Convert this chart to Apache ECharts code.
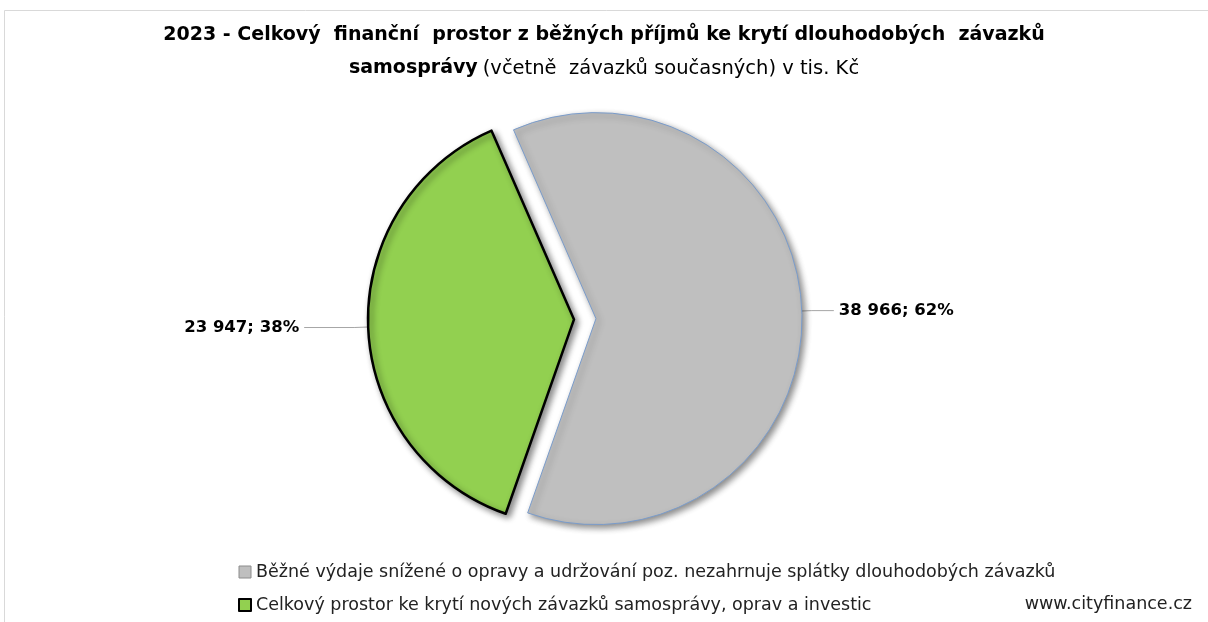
<!DOCTYPE html>
<html>
<head>
<meta charset="utf-8">
<script src="https://cdn.jsdelivr.net/npm/echarts@6/dist/echarts.min.js"></script>
<style>
  html, body { margin: 0; padding: 0; background: #fff; }
  #chart { width: 1208px; height: 622px; }
</style>
</head>
<body>
<div id="chart"></div>
<script>
// kategorie a hodnoty (tis. Kč)
const categories = [
  'Běžné výdaje snížené o opravy a udržování poz. nezahrnuje splátky dlouhodobých závazků',
  'Celkový prostor ke krytí nových závazků samosprávy, oprav a investic'
]
const values = [38966, 23947]
const colors = ['#BFBFBF', '#92D050']
const borders = ['#7A9CCB', '#000000']
const borderWidths = [1, 2.5]

const font = '"DejaVu Sans", "Liberation Sans", sans-serif'

// formát čísla s mezerou jako oddělovačem tisíců
function fmt(n) {
  return String(n).replace(/\B(?=(\d{3})+(?!\d))/g, ' ')
}

const chart = echarts.init(document.getElementById('chart'))

chart.setOption({
  animation: false,
  backgroundColor: '#fff',
  title: {
    left: 'center',
    top: 14,
    text: '{b|2023 - Celkový  finanční  prostor z běžných příjmů ke krytí dlouhodobých  závazků}\n{b|samosprávy} {n|(včetně  závazků současných) v tis. Kč}',
    textStyle: {
      rich: {
        b: { fontFamily: font, fontSize: 19, fontWeight: 'bold', color: '#000', lineHeight: 33 },
        n: { fontFamily: font, fontSize: 19.5, fontWeight: 'normal', color: '#000', lineHeight: 33 }
      }
    }
  },
  legend: {
    orient: 'vertical',
    left: 233,
    top: 558,
    itemWidth: 12,
    itemHeight: 12,
    itemGap: 15,
    icon: 'rect',
    textStyle: { fontFamily: font, fontSize: 17.5, color: '#222' },
    data: [
      { name: categories[0], itemStyle: { borderColor: '#8C8C8C', borderWidth: 1 } },
      { name: categories[1], itemStyle: { borderColor: '#000', borderWidth: 2 } }
    ]
  },
  graphic: [
    {
      type: 'rect',
      shape: { x: 4.5, y: 10.5, width: 1220, height: 640 },
      style: { fill: 'none', stroke: '#d9d9d9', lineWidth: 1 },
      silent: true
    },
    {
      type: 'text',
      right: 16,
      top: 595,
      style: { text: 'www.cityfinance.cz', font: '17.5px ' + font, fill: '#222' }
    }
  ],
  series: [
    {
      type: 'pie',
      center: [585, 319],
      radius: [0, 206],
      startAngle: 113.6,
      clockwise: true,
      selectedMode: 'multiple',
      selectedOffset: 11,
      avoidLabelOverlap: false,
      label: {
        show: true,
        position: 'outside',
        formatter: p => fmt(p.value) + '; ' + Math.round(p.percent) + '%',
        fontFamily: font,
        fontSize: 16.5,
        fontWeight: 'bold',
        color: '#000'
      },
      labelLine: {
        show: true,
        lineStyle: { color: '#A6A6A6', width: 1 }
      },
      emphasis: { disabled: true },
      data: categories.map((name, i) => ({
        name: name,
        value: values[i],
        selected: true,
        labelLine: i === 0 ? { length: 10, length2: 22 } : { length: 14, length2: 50 },
        itemStyle: {
          color: colors[i],
          borderColor: borders[i],
          borderWidth: borderWidths[i],
          shadowBlur: 6,
          shadowOffsetX: 3,
          shadowOffsetY: 3,
          shadowColor: 'rgba(0,0,0,0.45)'
        }
      }))
    }
  ]
})
</script>
</body>
</html>
